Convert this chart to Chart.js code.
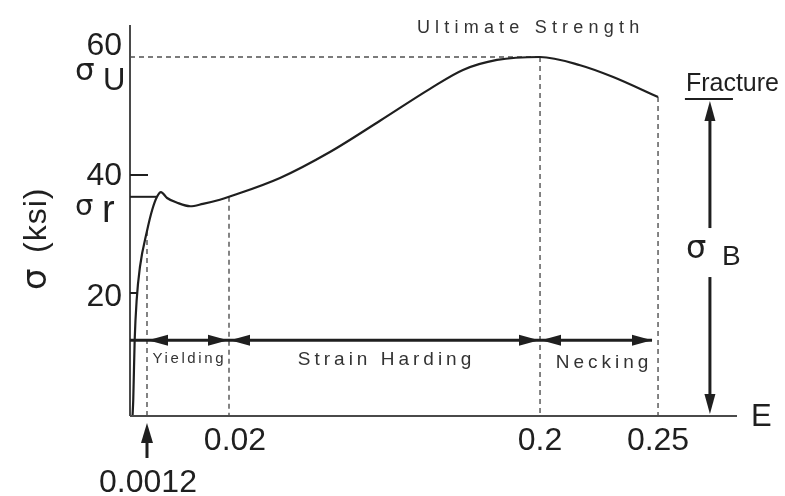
<!DOCTYPE html>
<html lang="en">
<head>
<meta charset="UTF-8">
<title>Stress-strain diagram</title>
<script src="https://cdn.jsdelivr.net/npm/chart.js"></script>
<style>
  html, body { margin: 0; padding: 0; background: #fff; }
  #wrap { width: 785px; height: 496px; position: relative; }
</style>
</head>
<body>
<div id="wrap"><canvas id="myChart"></canvas></div>
<script>
// strain (in/in) and stress (ksi)
const strain = [0.00018, 0.00023, 0.00033, 0.00047, 0.0007, 0.0012, 0.0024, 0.0035, 0.0044, 0.0058,
                0.0081, 0.0111, 0.014, 0.0179, 0.02, 0.0495, 0.0784, 0.1074, 0.1363,
                0.1554, 0.1751, 0.2, 0.217, 0.231, 0.25];
const stress = [-0.8, 1.9, 12.0, 18.8, 24.4, 30.5, 34.1, 36.3, 37.1, 36.1,
                35.3, 34.7, 35.1, 35.8, 36.3, 39.5, 43.9, 49.2, 54.6,
                57.8, 59.5, 60, 58.6, 56.6, 53.2];

// axis ticks
const strainTicks = [0.0012, 0.02, 0.2, 0.25];
const strainTickLabels = ['0.0012', '0.02', '0.2', '0.25'];
const stressTicks = [60, 40, 20];
const stressTickLabels = ['60', '40', '20'];

// regions between the strain ticks
const regionNames = ['Yielding', 'Strain Harding', 'Necking'];
const regionBounds = [[0.0012, 0.02], [0.02, 0.2], [0.2, 0.25]];

const ultimateStress = 60;
const yieldStress = 36.3;
const fractureStress = stress[stress.length - 1];

// the strain axis in the drawing is not linear: each tick gets its own stretch
const warpStrain = [0, 0.0012, 0.02, 0.2, 0.25, 0.285];
const warpFrac = [0, 0.028, 0.1631, 0.6755, 0.8699, 1];
function interp(v, xs, ys) {
    if (v <= xs[0]) return ys[0] + (v - xs[0]) * (ys[1] - ys[0]) / (xs[1] - xs[0]);
    for (let i = 1; i < xs.length; i++) {
        if (v <= xs[i]) return ys[i - 1] + (v - xs[i - 1]) * (ys[i] - ys[i - 1]) / (xs[i] - xs[i - 1]);
    }
    const n = xs.length - 1;
    return ys[n] + (v - xs[n]) * (ys[n] - ys[n - 1]) / (xs[n] - xs[n - 1]);
}
class WarpScale extends Chart.LinearScale {
    getPixelForValue(v) { return this.getPixelForDecimal(interp(v, warpStrain, warpFrac)); }
    getValueForPixel(p) { return interp(this.getDecimalForPixel(p), warpFrac, warpStrain); }
}
WarpScale.id = 'warp';
WarpScale.defaults = Chart.LinearScale.defaults;
Chart.register(WarpScale);

const ink = '#1f1f1f';
const SANS = '"Liberation Sans", Arial, sans-serif';
const GREEK = '"DejaVu Sans", sans-serif';

function seg(ctx, x1, y1, x2, y2) {
    ctx.beginPath(); ctx.moveTo(x1, y1); ctx.lineTo(x2, y2); ctx.stroke();
}
// filled arrow head, tip at (x,y)
function head(ctx, x, y, dir, len, half) {
    ctx.beginPath();
    ctx.moveTo(x, y);
    if (dir === 'left')  { ctx.lineTo(x + len, y - half); ctx.lineTo(x + len, y + half); }
    if (dir === 'right') { ctx.lineTo(x - len, y - half); ctx.lineTo(x - len, y + half); }
    if (dir === 'up')    { ctx.lineTo(x - half, y + len); ctx.lineTo(x + half, y + len); }
    if (dir === 'down')  { ctx.lineTo(x - half, y - len); ctx.lineTo(x + half, y - len); }
    ctx.closePath(); ctx.fill();
}
function txt(ctx, s, x, y, font, align, spacing) {
    ctx.font = font;
    ctx.textAlign = align || 'left';
    ctx.textBaseline = 'alphabetic';
    ctx.letterSpacing = (spacing || 0) + 'px';
    ctx.fillText(s, x + (align === 'center' ? (spacing || 0) / 2 : 0), y);
    ctx.letterSpacing = '0px';
}

const annotate = {
    id: 'annotate',
    beforeDatasetsDraw(chart) {
        const {ctx, chartArea: a, scales: {x, y}} = chart;
        ctx.save();
        ctx.strokeStyle = '#505050';
        ctx.lineWidth = 1.4;
        ctx.setLineDash([5, 4]);
        // ultimate strength level
        const yu = y.getPixelForValue(ultimateStress);
        seg(ctx, a.left, yu, x.getPixelForValue(strain[stress.indexOf(ultimateStress)]), yu);
        // drop lines from the curve at each strain tick
        strainTicks.forEach(t => {
            const px = x.getPixelForValue(t);
            seg(ctx, px, y.getPixelForValue(stress[strain.indexOf(t)]), px, a.bottom);
        });
        ctx.restore();
    },
    afterDatasetsDraw(chart) {
        const {ctx, chartArea: a, scales: {x, y}} = chart;
        ctx.save();
        ctx.fillStyle = ink;

        // axes
        ctx.strokeStyle = '#4a4a4a';
        ctx.lineWidth = 2;
        seg(ctx, a.left, a.top, a.left, a.bottom);
        seg(ctx, a.left, a.bottom, a.right, a.bottom);

        // stress ticks and labels
        ctx.strokeStyle = ink;
        seg(ctx, a.left, y.getPixelForValue(40), a.left + 18, y.getPixelForValue(40));
        seg(ctx, a.left, y.getPixelForValue(20), a.left + 7, y.getPixelForValue(20));
        const iy = stress.findIndex(s => s >= yieldStress);
        seg(ctx, a.left, y.getPixelForValue(yieldStress), x.getPixelForValue(strain[iy]), y.getPixelForValue(yieldStress));
        const lift = [-2, 10, 13];
        stressTicks.forEach((v, i) => {
            txt(ctx, stressTickLabels[i], a.left - 8, y.getPixelForValue(v) + lift[i], '32px ' + SANS, 'right');
        });
        // sigma U and sigma r
        const yu = y.getPixelForValue(ultimateStress);
        txt(ctx, 'σ', a.left - 55, yu + 23, '31px ' + GREEK, 'left');
        txt(ctx, 'U', a.left - 27, yu + 33, '31px ' + SANS, 'left');
        const yr = y.getPixelForValue(yieldStress);
        txt(ctx, 'σ', a.left - 55, yr + 18, '29px ' + GREEK, 'left');
        txt(ctx, 'r', a.left - 28, yr + 25, '38px ' + SANS, 'left');

        // y axis title
        ctx.save();
        ctx.translate(37, 238);
        ctx.rotate(-Math.PI / 2);
        txt(ctx, 'σ', -52, 9, '34px ' + GREEK, 'left');
        txt(ctx, '(ksi)', -15, 9, '32px ' + SANS, 'left', 1);
        ctx.restore();

        // strain labels
        strainTicks.forEach((t, i) => {
            const px = x.getPixelForValue(t);
            if (i === 0) {
                ctx.lineWidth = 3;
                seg(ctx, px, a.bottom + 24, px, a.bottom + 42);
                head(ctx, px, a.bottom + 7, 'up', 20, 6);
                txt(ctx, strainTickLabels[i], px + 1, a.bottom + 76, '32px ' + SANS, 'center');
            } else {
                txt(ctx, strainTickLabels[i], px + (i === 1 ? 6 : 0), a.bottom + 34, '32px ' + SANS, 'center');
            }
        });
        txt(ctx, 'E', a.right + 14, a.bottom + 10, '31px ' + SANS, 'left');

        // region arrows
        const ya = y.getPixelForValue(12);
        ctx.lineWidth = 3;
        const xEnd = x.getPixelForValue(regionBounds[2][1]);
        seg(ctx, a.left, ya, xEnd - 6, ya);
        const fonts = ['15px', '19px', '19px'];
        const gaps = [2.6, 4, 4];
        const base = [363, 365, 368];
        regionBounds.forEach(([s0, s1], i) => {
            const x0 = x.getPixelForValue(s0) + 1;
            const x1 = x.getPixelForValue(s1) - (i === 2 ? 6 : 1);
            head(ctx, x0, ya, 'left', 20, 5.5);
            head(ctx, x1, ya, 'right', 20, 5.5);
            ctx.fillStyle = '#333';
            txt(ctx, regionNames[i], (x.getPixelForValue(s0) + x.getPixelForValue(s1)) / 2 + (i === 2 ? 3 : 0),
                base[i], fonts[i] + ' ' + SANS, 'center', gaps[i]);
            ctx.fillStyle = ink;
        });

        // ultimate strength caption
        ctx.fillStyle = '#333';
        txt(ctx, 'Ultimate Strength', x.getPixelForValue(0.2) - 12, 33, '18px ' + SANS, 'center', 5.2);
        ctx.fillStyle = ink;

        // fracture and sigma B arrow
        const xf = x.getPixelForValue(0.273);
        const yf = y.getPixelForValue(fractureStress);
        txt(ctx, 'Fracture', xf - 24, yf - 6, '25px ' + SANS, 'left');
        ctx.lineWidth = 2;
        seg(ctx, xf - 25, yf + 2, xf + 23, yf + 2);
        const ymid = y.getPixelForValue(fractureStress / 2);
        ctx.lineWidth = 3;
        seg(ctx, xf, yf + 20, xf, ymid - 26);
        seg(ctx, xf, ymid + 23, xf, a.bottom - 18);
        head(ctx, xf, yf + 4, 'up', 20, 5.5);
        head(ctx, xf, a.bottom - 2, 'down', 20, 5.5);
        txt(ctx, 'σ', xf - 24, ymid + 4, '32px ' + GREEK, 'left');
        txt(ctx, 'B', xf + 12, ymid + 11, '28px ' + SANS, 'left');

        ctx.restore();
    }
};

new Chart(document.getElementById('myChart'), {
    type: 'line',
    data: {
        datasets: [{
            data: strain.map((s, i) => ({x: s, y: stress[i]})),
            borderColor: ink,
            borderWidth: 2.2,
            pointRadius: 0,
            fill: false,
            cubicInterpolationMode: 'monotone'
        }]
    },
    options: {
        responsive: true,
        maintainAspectRatio: false,
        devicePixelRatio: 1,
        animation: false,
        layout: { padding: { left: 130, right: 48, top: 25, bottom: 80 } },
        plugins: { legend: { display: false }, tooltip: { enabled: false } },
        scales: {
            x: { type: 'warp', display: false, min: 0, max: 0.285 },
            y: { type: 'linear', display: false, min: -0.85, max: 65.42 }
        }
    },
    plugins: [annotate]
});
</script>
</body>
</html>
